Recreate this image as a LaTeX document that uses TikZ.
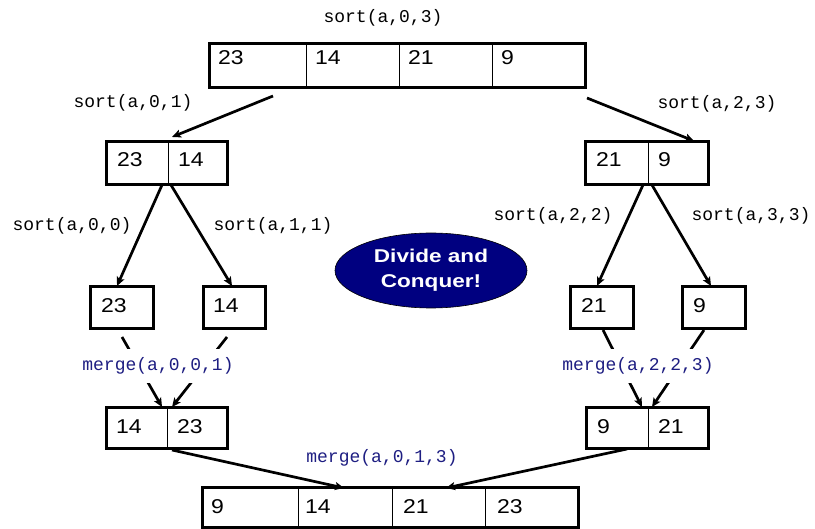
\documentclass[tikz,border=0pt]{standalone}
\usepackage{fontspec}
\setmainfont{Liberation Sans}
\newfontfamily\codefont{Liberation Mono}
\newfontfamily\digitfont[FakeStretch=1.15]{Liberation Sans}
\newfontfamily\mottofont[FakeStretch=1.22]{Liberation Sans}
\usetikzlibrary{arrows.meta,shapes.geometric,calc}
\definecolor{navyfill}{RGB}{0,0,128}
\definecolor{mergecol}{RGB}{30,30,130}

\begin{document}
\begin{tikzpicture}[x=1pt,y=-1pt,
  arr/.style={draw, line width=3pt, rectangle, inner sep=0pt, outer sep=0pt},
  divider/.style={line width=0.9pt},
  num/.style={anchor=base west, inner sep=0pt, font=\digitfont\fontsize{20pt}{24pt}\selectfont},
  call/.style={inner sep=1pt, font=\codefont\fontsize{18pt}{22pt}\selectfont},
  mergecall/.style={call, text=mergecol},
  link/.style={line width=2.7pt, -{Stealth[length=9pt,width=8pt,inset=2pt]}},
  bubble/.style={ellipse, draw=black, line width=0.6pt, fill=navyfill, text=white,
    minimum width=192pt, minimum height=75pt, inner sep=0pt, align=center,
    font=\mottofont\bfseries\fontsize{18.5pt}{25pt}\selectfont}
]
\useasboundingbox (0,0) rectangle (815,529);

% ---- array boxes ----
\node[arr, minimum width=376pt, minimum height=44pt] (top) at (397,66) {};
\node[arr, minimum width=121pt, minimum height=43pt] (l2a) at (166.5,163.5) {};
\node[arr, minimum width=123pt, minimum height=43pt] (l2b) at (646.5,163.5) {};
\node[arr, minimum width=63pt, minimum height=42pt] (l3a) at (121.5,308) {};
\node[arr, minimum width=62pt, minimum height=42pt] (l3b) at (234,308) {};
\node[arr, minimum width=63pt, minimum height=42pt] (l3c) at (601.5,308) {};
\node[arr, minimum width=63pt, minimum height=42pt] (l3d) at (713.5,308) {};
\node[arr, minimum width=121pt, minimum height=41pt] (l4a) at (166.5,428.5) {};
\node[arr, minimum width=122pt, minimum height=41pt] (l4b) at (647,428.5) {};
\node[arr, minimum width=376pt, minimum height=40pt] (bot) at (390,508) {};

% ---- cell dividers ----
\foreach \x in {306,399,492} \draw[divider] (\x,44) -- (\x,88);
\draw[divider] (168,142) -- (168,185);
\draw[divider] (648,142) -- (648,185);
\draw[divider] (167,408) -- (167,449);
\draw[divider] (648,408) -- (648,449);
\foreach \x in {298,392,485} \draw[divider] (\x,488) -- (\x,528);

% ---- cell values ----
\node[num] at (218,65) {23};
\node[num] at (315,65) {14};
\node[num] at (408,65) {21};
\node[num] at (501,65) {9};

\node[num] at (117,167) {23};
\node[num] at (178,167) {14};
\node[num] at (596,167) {21};
\node[num] at (658,167) {9};

\node[num] at (101,313) {23};
\node[num] at (213,313) {14};
\node[num] at (581,313) {21};
\node[num] at (693,313) {9};

\node[num] at (116,434) {14};
\node[num] at (177,434) {23};
\node[num] at (597,434) {9};
\node[num] at (658,434) {21};

\node[num] at (211,514) {9};
\node[num] at (305,514) {14};
\node[num] at (403,514) {21};
\node[num] at (497,514) {23};

% ---- divide: recursive calls ----
\draw[link] ($(top.south west)+(64,8)$) -- ($(l2a.north west)+(66,-5)$);
\draw[link] ($(top.south east)+(2,10)$) -- ($(l2b.north west)+(109,-1)$);
\draw[link] ($(l2a.south west)+(56,0)$) -- ($(l3a.north west)+(27,-1)$);
\draw[link] ($(l2a.south west)+(65,0)$) -- ($(l3b.north west)+(29,-1)$);
\draw[link] ($(l2b.south west)+(58,0)$) -- ($(l3c.north west)+(27,-1)$);
\draw[link] ($(l2b.south west)+(67,0)$) -- ($(l3d.north west)+(29,-1)$);

% ---- conquer: merges ----
\draw[link] ($(l3a.south west)+(32,8)$) -- ($(l4a.north west)+(56,-1)$);
\draw[link] ($(l3b.south west)+(24,8)$) -- ($(l4a.north west)+(66,-1)$);
\draw[link] ($(l3c.south west)+(33,1)$) -- ($(l4b.north west)+(56,-1)$);
\draw[link] ($(l3d.south west)+(22,1)$) -- ($(l4b.north west)+(66,-1)$);
\draw[link] ($(l4a.south west)+(66,1)$) -- ($(bot.north west)+(142,0)$);
\draw[link] ($(l4b.south west)+(41,0)$) -- ($(bot.north west)+(244,0)$);

% ---- call labels ----
\node[call] (c03) at (383,18) {sort(a,0,3)};
\node[call] (c01) at (133,103) {sort(a,0,1)};
\node[call] (c23) at (717,104) {sort(a,2,3)};
\node[call] (c00) at (72,226) {sort(a,0,0)};
\node[call] (c11) at (273,226) {sort(a,1,1)};
\node[call] (c22) at (553,216) {sort(a,2,2)};
\node[call] (c33) at (751,216) {sort(a,3,3)};
\node[mergecall, fill=white, inner ysep=9pt] (m001) at (158,366) {merge(a,0,0,1)};
\node[mergecall, fill=white, inner ysep=9pt] (m223) at (638,366) {merge(a,2,2,3)};
\node[mergecall] (m013) at (382,458) {merge(a,0,1,3)};

% ---- motto ----
\node[bubble] (motto) at (431,270.5) {Divide and\\Conquer!};
\end{tikzpicture}
\end{document}
